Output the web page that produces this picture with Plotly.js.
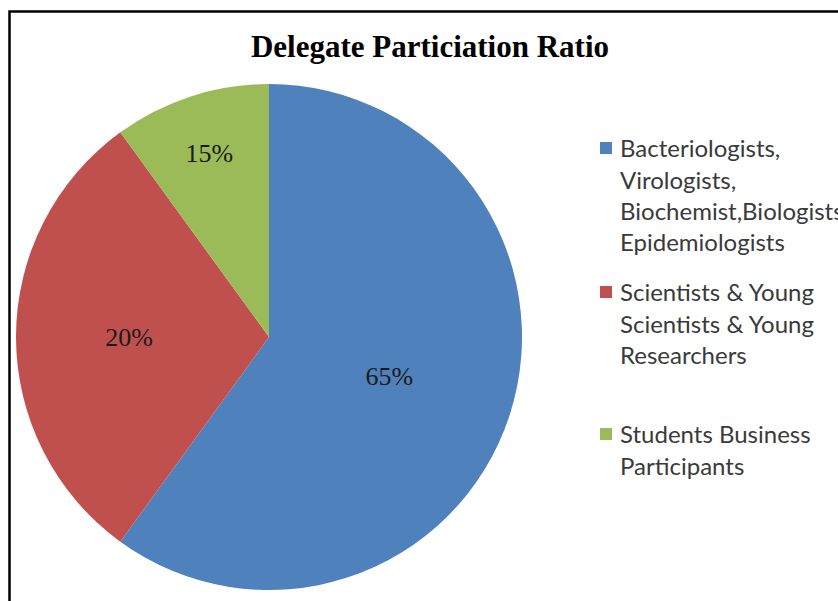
<!DOCTYPE html>
<html>
<head>
<meta charset="utf-8">
<script src="https://cdn.plot.ly/plotly-3.0.1.min.js"></script>
<style>
html, body { margin: 0; padding: 0; overflow: hidden; background: #fff; }
#chart { width: 900px; height: 650px; }
</style>
</head>
<body>
<div id="chart"></div>
<script>
// Data
var categories = [
  "Bacteriologists,<br>Virologists,<br>Biochemist,Biologists,<br>Epidemiologists",
  "Scientists & Young<br>Scientists & Young<br>Researchers",
  "Students Business<br>Participants"
];
var sliceValues = [60, 30, 10];          // slice sizes as drawn
var sliceLabels = ["65%", "20%", "15%"]; // percentages printed on the slices
var sliceColors = ["#4F81BD", "#C0504D", "#9BBB59"];

var W = 900, H = 650;
var cx = 269, cy = 337, r = 253;

var trace = {
  type: "pie",
  labels: categories,
  values: sliceValues,
  text: sliceLabels,
  textinfo: "text",
  textposition: "inside",
  insidetextorientation: "horizontal",
  textfont: { family: "Liberation Serif", size: 26, color: "#1a1a1a" },
  marker: { colors: sliceColors, line: { width: 0 } },
  sort: false,
  direction: "clockwise",
  rotation: 0,
  hoverinfo: "none",
  domain: {
    x: [(cx - r) / W, (cx + r) / W],
    y: [1 - (cy + r) / H, 1 - (cy - r) / H]
  }
};

var layout = {
  width: W,
  height: H,
  margin: { l: 0, r: 0, t: 0, b: 0 },
  paper_bgcolor: "#ffffff",
  title: {
    text: "<b>Delegate Particiation Ratio</b>",
    font: { family: "Liberation Serif", size: 31, color: "#000" },
    x: 430 / W,
    xanchor: "center",
    xref: "paper",
    y: 1 - 46 / H,
    yref: "container",
    yanchor: "middle"
  },
  showlegend: true,
  legend: {
    x: 580 / W,
    xanchor: "left",
    y: 1 - 125 / H,
    yanchor: "top",
    valign: "top",
    font: { family: "Lato", size: 24, color: "#3a3a3a" },
    bgcolor: "rgba(0,0,0,0)",
    itemclick: false,
    itemdoubleclick: false
  },
  shapes: [{
    type: "rect",
    xref: "paper", yref: "paper",
    x0: 9.5 / W, x1: 1.02,
    y0: 1 - 11.5 / H, y1: -0.02,
    line: { color: "#000", width: 2.5 },
    fillcolor: "rgba(0,0,0,0)"
  }]
};

// legend entry vertical centres (first line) as laid out in the reference
var legendEntryTops = [148, 292, 434];

Plotly.newPlot("chart", [trace], layout, { displayModeBar: false, staticPlot: true })
  .then(function (gd) {
    var sb = gd.querySelector(".legend .scrollbox");
    if (sb) sb.removeAttribute("clip-path");
    var items = gd.querySelectorAll(".legend .traces");
    items.forEach(function (g, i) {
      var pts = g.querySelector(".legendpoints");
      if (pts) pts.setAttribute("transform", "translate(6,0)");
      var sym = g.querySelector(".legendpoints path");
      if (!sym || legendEntryTops[i] === undefined) return;
      var rc = sym.getBoundingClientRect();
      var d = legendEntryTops[i] - (rc.top + rc.bottom) / 2;
      var t = g.getAttribute("transform") || "";
      var m = /translate\(\s*([-\d.e]+)[ ,]+([-\d.e]+)\s*\)/.exec(t);
      var x0 = m ? parseFloat(m[1]) : 0, y0 = m ? parseFloat(m[2]) : 0;
      g.setAttribute("transform", "translate(" + x0 + "," + (y0 + d) + ")");
    });
  });
</script>
</body>
</html>
